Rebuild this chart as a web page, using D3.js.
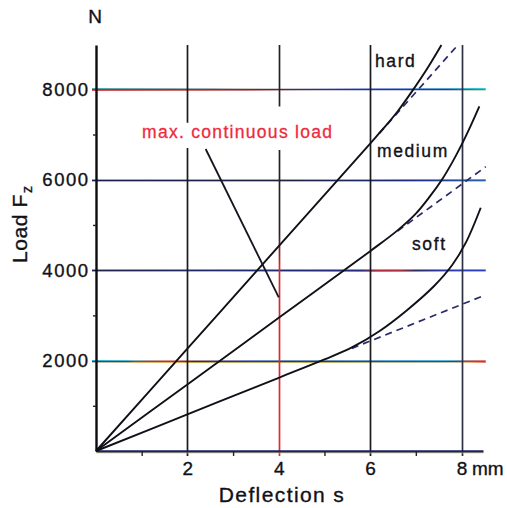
<!DOCTYPE html>
<html>
<head>
<meta charset="utf-8">
<script src="https://cdn.jsdelivr.net/npm/d3@7"></script>
<style>
  html, body { margin: 0; padding: 0; background: #fff; }
  svg { display: block; font-family: "Liberation Sans", Arial, sans-serif; }
  svg text { paint-order: stroke; }
</style>
</head>
<body>
<svg id="chart" width="507" height="508"></svg>
<script>
// Spring characteristic: load F_z against deflection s for three spring grades

// axis ticks
const deflectionTicks = [2, 4, 6, 8];
const deflectionMinor = [1, 3, 5, 7];
const loadTicks = [2000, 4000, 6000, 8000];
const loadMinor = [1000, 3000, 5000, 7000];

// measured characteristics (s in mm, F in N)
const hardS = [0, 2, 4, 6, 6.3, 6.6, 6.92, 7.25, 7.56];
const hardF = [0, 2265, 4530, 6800, 7145, 7510, 7960, 8460, 8980];
const mediumS = [0, 2, 4, 6.0, 6.6, 7.0, 7.3, 7.57, 7.8, 8.0, 8.2, 8.39];
const mediumF = [0, 1473, 2947, 4420, 4880, 5250, 5620, 6000, 6390, 6770, 7190, 7620];
const softS = [0, 2, 4, 5.0, 5.6, 6.2, 6.8, 7.4, 7.8, 8.1, 8.42];
const softF = [0, 810, 1620, 2025, 2290, 2650, 3110, 3650, 4120, 4620, 5380];

// linear extensions (dashed) of each characteristic
const hardLinS = [6.2, 7.92];
const hardLinF = [7025, 8980];
const mediumLinS = [6.6, 8.53];
const mediumLinF = [4865, 6287];
const softLinS = [5.6, 8.47];
const softLinF = [2270, 3430];

// pointer towards the max. continuous load
const pointerS = [2.4, 4.0];
const pointerF = [6680, 3400];

const curveLabels = ["hard", "medium", "soft"];
const pointerLabel = "max. continuous load";

// ---------------------------------------------------------------------------
const svg = d3.select("#chart");
const x = d3.scaleLinear().domain([0, 8.47]).range([96, 483]);
const y = d3.scaleLinear().domain([0, 8980]).range([451, 45]);
const zip = (a, b) => a.map((v, i) => [v, b[i]]);
const xGridEnd = x(8.53);

const defs = svg.append("defs");
function hGradient(id, stops) {
  const g = defs.append("linearGradient").attr("id", id)
    .attr("gradientUnits", "userSpaceOnUse")
    .attr("x1", x(0)).attr("x2", xGridEnd).attr("y1", 0).attr("y2", 0);
  stops.forEach(([o, c, op]) => g.append("stop").attr("offset", o)
    .attr("stop-color", c).attr("stop-opacity", op == null ? 1 : op));
  return `url(#${id})`;
}

// scanner-like colour fringes along the horizontal grid lines
const gridTint = {
  8000: {
    core: [[0, "#a83040"], [0.3, "#8a3038"], [0.45, "#44343c"], [0.65, "#2a2f8c"], [0.9, "#2a34b0"], [1, "#2a9cc0"]],
    top: [[0, "#20c8d0", 0.9], [0.3, "#60c0c8", 0.5], [0.45, "#ffffff", 0], [0.7, "#4a70e0", 0.4], [1, "#20d8e0", 0.9]],
    bot: [[0, "#e03030", 0.8], [0.4, "#d04040", 0.5], [0.6, "#ffffff", 0], [1, "#e8e040", 0.3]]
  },
  6000: {
    core: [[0, "#1c2050"], [0.5, "#202440"], [0.8, "#1c2a80"], [1, "#2a60b0"]],
    top: [[0, "#4070c0", 0.3], [0.7, "#4070c0", 0.3], [0.85, "#20d0e0", 0.8], [1, "#20d0e0", 0.9]],
    bot: [[0, "#d0c040", 0.4], [1, "#d0c040", 0.3]]
  },
  4000: {
    core: [[0, "#20244a"], [0.35, "#202a70"], [0.68, "#262c80"], [0.72, "#b03040"], [0.78, "#b03040"], [0.82, "#2a2a60"], [0.9, "#2a38b0"], [1, "#2a40c0"]],
    top: [[0, "#20c0d0", 0.5], [0.3, "#3050d0", 0.4], [1, "#3050d0", 0.4]],
    bot: [[0, "#e0d030", 0.7], [0.3, "#e0d030", 0.4], [0.72, "#e04040", 0.7], [0.78, "#e04040", 0.6], [0.9, "#e0d030", 0.6], [1, "#e0d030", 0.6]]
  },
  2000: {
    core: [[0, "#2a40b0"], [0.08, "#2a40b0"], [0.1, "#c03030"], [0.2, "#c03030"], [0.25, "#30303c"], [0.4, "#2a36a0"], [0.55, "#383848"], [0.75, "#2a40c0"], [0.93, "#2a40c0"], [0.95, "#d03030"], [1, "#e03030"]],
    top: [[0, "#20d0e0", 0.9], [0.1, "#20d0e0", 0.6], [0.2, "#e04040", 0.4], [0.4, "#3050d0", 0.5], [0.9, "#20d0e0", 0.7], [1, "#e04040", 0.6]],
    bot: [[0, "#e0d030", 0.4], [0.25, "#e0d030", 0.8], [0.6, "#e0d030", 0.7], [0.95, "#e0d030", 0.4], [1, "#e04040", 0.6]]
  }
};

// horizontal grid lines
const hGrid = svg.append("g").attr("class", "h-grid");
loadTicks.forEach(v => {
  const t = gridTint[v];
  const yy = Math.round(y(v)) + 0.5;
  const x0 = x(0) - 4;
  hGrid.append("line").attr("x1", x0).attr("x2", xGridEnd).attr("y1", yy - 1).attr("y2", yy - 1)
    .attr("stroke", hGradient(`gt${v}`, t.top)).attr("stroke-width", 1);
  hGrid.append("line").attr("x1", x0).attr("x2", xGridEnd).attr("y1", yy + 1).attr("y2", yy + 1)
    .attr("stroke", hGradient(`gb${v}`, t.bot)).attr("stroke-width", 1);
  hGrid.append("line").attr("x1", x0).attr("x2", xGridEnd).attr("y1", yy).attr("y2", yy)
    .attr("stroke", hGradient(`gc${v}`, t.core)).attr("stroke-width", 1.7);
});

// vertical grid lines (broken where the pointer label sits)
const vGap = { 2: [6700, 7260], 4: [6660, 7620] };
const vGrad = defs.append("linearGradient").attr("id", "v4")
  .attr("gradientUnits", "userSpaceOnUse").attr("x1", 0).attr("x2", 0)
  .attr("y1", y(8980)).attr("y2", y(0));
[[0, "#222"], [(y(4800) - 45) / 406, "#2a2222"], [(y(4100) - 45) / 406, "#d02a30"], [1, "#e02a30"]]
  .forEach(([o, c]) => vGrad.append("stop").attr("offset", o).attr("stop-color", c));
const vColor = { 2: "#1a1a1e", 4: "url(#v4)", 6: "#1a1a1e", 8: "#2e3044" };
const vGrid = svg.append("g").attr("class", "v-grid");
deflectionTicks.forEach(s => {
  const xx = Math.round(x(s)) + 0.5;
  const segs = vGap[s] ? [[8980, vGap[s][1]], [vGap[s][0], 0]] : [[8980, 0]];
  segs.forEach(([a, b]) => {
    vGrid.append("line").attr("x1", xx).attr("x2", xx)
      .attr("y1", y(a)).attr("y2", b === 0 ? y(0) + 5 : y(b))
      .attr("stroke", vColor[s]).attr("stroke-width", 1.7);
  });
});

// axes
const font = "Liberation Sans, Arial, sans-serif";
const ink = "#111118";
const heavy = sel => sel.attr("stroke", ink).attr("stroke-width", 0.35);
const yAxis = svg.append("g").attr("transform", `translate(${x(0)},0)`)
  .call(d3.axisLeft(y).tickValues(loadTicks).tickSize(4).tickSizeOuter(0).tickPadding(4).tickFormat(d3.format("d")));
yAxis.select(".domain").attr("stroke", "#0c0c10").attr("stroke-width", 2.4);
yAxis.selectAll(".tick line").remove();
yAxis.selectAll(".tick text").attr("font-family", font).attr("font-size", 18.5)
  .attr("fill", ink).style("letter-spacing", "1.5px").attr("dx", "1.5px").call(heavy);

const yMinor = svg.append("g").attr("transform", `translate(${x(0)},0)`)
  .call(d3.axisLeft(y).tickValues(loadMinor).tickSize(3).tickFormat(""));
yMinor.select(".domain").remove();
yMinor.selectAll(".tick line").attr("stroke", "#223").attr("stroke-width", 1.4);

const xAxis = svg.append("g").attr("transform", `translate(0,${y(0)})`)
  .call(d3.axisBottom(x).tickValues(deflectionTicks).tickSize(5).tickSizeOuter(0).tickPadding(6).tickFormat(d3.format("d")));
xAxis.select(".domain").attr("stroke", "#1a1f6a").attr("stroke-width", 2.6);
xAxis.selectAll(".tick line").remove();
xAxis.selectAll(".tick text").attr("font-family", font).attr("font-size", 19).attr("fill", ink).call(heavy);
xAxis.selectAll(".tick").filter(d => d === 8).append("text")
  .attr("x", 10).attr("y", 11).attr("dy", "0.71em").attr("text-anchor", "start")
  .attr("font-family", font).attr("font-size", 19).attr("fill", ink).call(heavy).text("mm");
// yellow fringe under the base line
svg.append("line").attr("x1", x(0)).attr("x2", x(8.47)).attr("y1", y(0) + 2).attr("y2", y(0) + 2)
  .attr("stroke", "#e0d030").attr("stroke-width", 1).attr("opacity", 0.6);

const xMinor = svg.append("g").attr("transform", `translate(0,${y(0)})`)
  .call(d3.axisBottom(x).tickValues(deflectionMinor).tickSize(5).tickFormat(""));
xMinor.select(".domain").remove();
xMinor.selectAll(".tick line").attr("stroke", "#223").attr("stroke-width", 1.4);

// pointer label
svg.append("text").attr("x", 142).attr("y", 138)
  .attr("font-family", font).attr("font-size", 17.5).attr("fill", "#ee2a3c")
  .attr("stroke", "#ee2a3c").attr("stroke-width", 0.3)
  .style("letter-spacing", "1.3px").text(pointerLabel);

// pointer line
const line = d3.line().x(d => x(d[0])).y(d => y(d[1]));
svg.append("path").datum(zip(pointerS, pointerF)).attr("d", line)
  .attr("fill", "none").attr("stroke", "#151520").attr("stroke-width", 1.8);

// dashed linear extensions
[[hardLinS, hardLinF], [mediumLinS, mediumLinF], [softLinS, softLinF]].forEach(([s, f]) => {
  svg.append("path").datum(zip(s, f)).attr("d", line)
    .attr("fill", "none").attr("stroke", "#2a2a6a").attr("stroke-width", 1.7)
    .attr("stroke-dasharray", "7,5");
});

// characteristic curves
const smooth = d3.line().x(d => x(d[0])).y(d => y(d[1])).curve(d3.curveCatmullRom.alpha(0.5));
[[hardS, hardF], [mediumS, mediumF], [softS, softF]].forEach(([s, f]) => {
  svg.append("path").datum(zip(s, f)).attr("d", smooth)
    .attr("fill", "none").attr("stroke", "#101018").attr("stroke-width", 1.9);
});

// curve names
const namePos = [[375, 67], [377, 157], [412, 250]];
curveLabels.forEach((t, i) => {
  svg.append("text").attr("x", namePos[i][0]).attr("y", namePos[i][1])
    .attr("font-family", font).attr("font-size", 17.5).attr("fill", ink).call(heavy)
    .style("letter-spacing", "1.6px").text(t);
});

// unit over the load axis
svg.append("text").attr("x", 95).attr("y", 23).attr("text-anchor", "middle")
  .attr("font-family", font).attr("font-size", 19).attr("fill", ink).call(heavy).text("N");

// axis titles
svg.append("text").attr("x", 282).attr("y", 502).attr("text-anchor", "middle")
  .attr("font-family", font).attr("font-size", 21).attr("fill", ink).call(heavy)
  .style("letter-spacing", "1.4px").text("Deflection s");

const yt = svg.append("text").attr("transform", "translate(27,263) rotate(-90)")
  .attr("font-family", font).attr("font-size", 21).attr("fill", ink).call(heavy)
  .style("letter-spacing", "0.6px");
yt.append("tspan").text("Load F");
yt.append("tspan").attr("dx", 1).attr("dy", 5).attr("font-size", 14).text("z");
</script>
</body>
</html>
